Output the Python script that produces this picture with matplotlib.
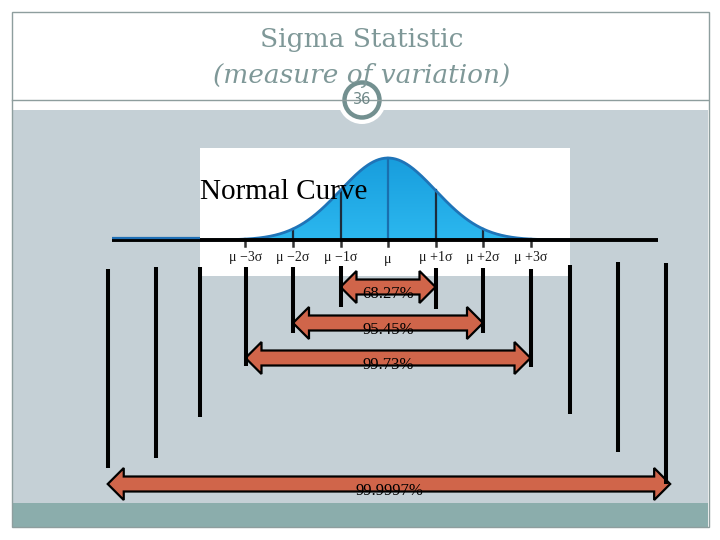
import numpy as np
import matplotlib
matplotlib.use("Agg")
import matplotlib.pyplot as plt
from matplotlib.patches import Rectangle, Circle, Polygon
from matplotlib.colors import LinearSegmentedColormap

# ---------------- data ----------------
title_main = "Sigma Statistic"
title_sub = "(measure of variation)"
slide_number = "36"
curve_label = "Normal Curve"

tick_pos = [-3, -2, -1, 0, 1, 2, 3]
tick_labels = ["μ −3σ", "μ −2σ", "μ −1σ", "μ", "μ +1σ", "μ +2σ", "μ +3σ"]

# vertical guide lines (x in sigma units), their top / bottom (px)
line_x = [-5.9, -4.88, -3.96, -3, -2, -1, 1, 2, 3, 3.83, 4.84, 5.85]
line_top = [269, 267, 267, 267, 267, 266, 268, 268, 269, 265, 262, 263]
line_bot = [468, 458, 417, 366, 333, 307, 309, 333, 367, 414, 452, 484]

arrow_labels = ["68.27%", "95.45%", "99.73%", "99.9997%"]
arrow_lo = [-1, -2, -3, -5.9]
arrow_hi = [1, 2, 3, 5.94]
arrow_y = [287, 323, 358, 484]

# ---------------- layout ----------------
W, H = 720, 540
MU_PX, SIG_PX = 388, 47.5
BASE_PX, PEAK_PX = 240, 82
BOX = (200, 148, 570, 276)  # x0, y0, x1, y1 in px

fig = plt.figure(figsize=(7.2, 5.4), dpi=100)
fig.patch.set_facecolor("white")

# slide decoration axes (pixel coordinates)
ax = fig.add_axes([0, 0, 1, 1])
ax.set_xlim(0, W)
ax.set_ylim(H, 0)
ax.axis("off")

frame_col = "#8e9e9e"
ax.add_patch(Rectangle((12, 110), 696, 393, facecolor="#c5d0d6", edgecolor="none"))
ax.add_patch(Rectangle((12, 503), 696, 24, facecolor="#8badac", edgecolor="none"))
ax.add_patch(Rectangle((11.5, 12), 697, 515, facecolor="none", edgecolor=frame_col, lw=1))
ax.plot([12, 708], [100, 100], color=frame_col, lw=1)

title_col = "#7f9898"
ax.text(362, 40, title_main, ha="center", va="center", fontsize=19,
        family="DejaVu Serif", color=title_col)
ax.text(362, 75, title_sub, ha="center", va="center", fontsize=19,
        family="DejaVu Serif", style="italic", color=title_col)

ax.add_patch(Circle((362, 100), 24, facecolor="white", edgecolor="none"))
ax.add_patch(Circle((362, 100), 17.5, facecolor="white", edgecolor="#739090", lw=3.2))
ax.text(362, 100, slide_number, ha="center", va="center", fontsize=10.5,
        family="DejaVu Sans", color="#6f8888")

# ---------------- normal curve box ----------------
x0, y0, x1, y1 = BOX
cax = fig.add_axes([x0 / W, (H - y1) / H, (x1 - x0) / W, (y1 - y0) / H])
cax.set_facecolor("white")
for sp in cax.spines.values():
    sp.set_visible(False)
cax.set_xticks([])
cax.set_yticks([])
sx0, sx1 = (x0 - MU_PX) / SIG_PX, (x1 - MU_PX) / SIG_PX

xs = np.linspace(sx0, sx1, 400)
ys = np.exp(-0.5 * xs ** 2)
poly = cax.fill_between(xs, 0, ys, color="none")
grad = np.linspace(0, 1, 256).reshape(-1, 1)
cmap = LinearSegmentedColormap.from_list("b", ["#2cb8ef", "#189ddd"])
im = cax.imshow(grad, extent=[sx0, sx1, 0, 1.0], origin="lower", aspect="auto",
                cmap=cmap, zorder=1)
im.set_clip_path(poly.get_paths()[0], transform=cax.transData)
cax.set_xlim(sx0, sx1)
cax.set_ylim(-(y1 - BASE_PX) / PEAK_PX, (BASE_PX - y0) / PEAK_PX)
cax.plot(xs, ys, color="#1f74b8", lw=2, zorder=3)

for t in tick_pos:
    h = np.exp(-0.5 * t ** 2)
    cax.plot([t, t], [0, h], color="#1a6fae" if t == 0 else "#1c2c3c",
             lw=1.6, zorder=2)
    cax.plot([t, t], [0, -6 / PEAK_PX], color="#333333", lw=1.8, zorder=2)
for t, lab in zip(tick_pos, tick_labels):
    off = 20 if t == 0 else 17
    cax.text(t, -off / PEAK_PX, lab, ha="center", va="center", fontsize=10,
             family="Liberation Serif", color="#1a1a1a")
cax.text(sx0, (BASE_PX - 192) / PEAK_PX, curve_label, ha="left", va="center",
         fontsize=21, family="Liberation Serif", color="black", zorder=4)

# ---------------- data axes (x in sigma units, y in px) ----------------
dax = fig.add_axes([0, 0, 1, 1])
dax.set_xlim(-MU_PX / SIG_PX, (W - MU_PX) / SIG_PX)
dax.set_ylim(H, 0)
dax.axis("off")
dax.patch.set_alpha(0)

left_end, right_end = (112 - MU_PX) / SIG_PX, (658 - MU_PX) / SIG_PX
dax.plot([left_end, right_end], [BASE_PX, BASE_PX], color="black", lw=2.8,
         solid_capstyle="butt")
dax.plot([left_end, sx0], [BASE_PX - 2.5, BASE_PX - 2.5], color="#1f6fb5", lw=1.6,
         solid_capstyle="butt")

for lx, lt, lb in zip(line_x, line_top, line_bot):
    dax.plot([lx, lx], [lt, lb], color="black", lw=2.9, solid_capstyle="butt")

head_len = 16 / SIG_PX
head_h, shaft_h = 16, 7.5
for lab, lo, hi, yc in zip(arrow_labels, arrow_lo, arrow_hi, arrow_y):
    pts = [(lo, yc), (lo + head_len, yc - head_h), (lo + head_len, yc - shaft_h),
           (hi - head_len, yc - shaft_h), (hi - head_len, yc - head_h), (hi, yc),
           (hi - head_len, yc + head_h), (hi - head_len, yc + shaft_h),
           (lo + head_len, yc + shaft_h), (lo + head_len, yc + head_h)]
    dax.add_patch(Polygon(pts, closed=True, facecolor="#d0654a", edgecolor="black",
                          lw=1.6, joinstyle="miter"))
    dax.text((lo + hi) / 2, yc + 7, lab, ha="center", va="center", fontsize=12,
             family="Liberation Serif", color="black")

fig.savefig("out.png", dpi=100)
